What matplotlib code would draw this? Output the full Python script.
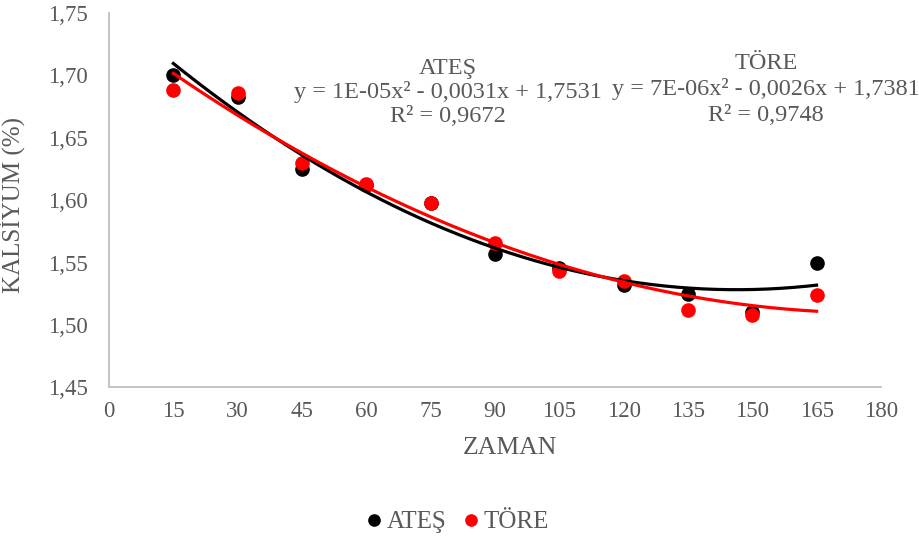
import numpy as np
import matplotlib
matplotlib.use("Agg")
import matplotlib.pyplot as plt

plt.rcParams['font.family'] = ['Liberation Serif', 'DejaVu Serif']

# veriler
zaman = [15, 30, 45, 60, 75, 90, 105, 120, 135, 150, 165]
ates = [1.700, 1.683, 1.625, 1.612, 1.598, 1.557, 1.546, 1.532, 1.525, 1.510, 1.550]
tore = [1.688, 1.686, 1.630, 1.613, 1.598, 1.566, 1.543, 1.535, 1.512, 1.508, 1.524]
x_ticks = list(range(0, 181, 15))
y_ticks = [1.45, 1.50, 1.55, 1.60, 1.65, 1.70, 1.75]

ates_yazi = ['ATEŞ', 'y = 1E-05x² - 0,0031x + 1,7531', 'R² = 0,9672']
tore_yazi = ['TÖRE', 'y = 7E-06x² - 0,0026x + 1,7381', 'R² = 0,9748']

gri = '#595959'
W, H = 920, 541

fig = plt.figure(figsize=(9.2, 5.41), dpi=100)
ax = fig.add_axes([0.1185, 0.284, 0.839, 0.692])

# noktalar
ax.plot(zaman, ates, 'o', color='black', ms=9.5, label='ATEŞ', zorder=3)
ax.plot(zaman, tore, 'o', color='#ff0000', ms=9.5, label='TÖRE', zorder=3)

# 2. derece trend cizgileri
xs = np.linspace(zaman[0], zaman[-1], 200)
k_ates = np.polyfit(zaman, ates, 2)
k_tore = np.polyfit(zaman, tore, 2)
ax.plot(xs, np.polyval(k_ates, xs), color='black', lw=2.3, zorder=4)
ax.plot(xs, np.polyval(k_tore, xs), color='#ff0000', lw=2.3, zorder=5)

ax.set_xlim(0, 180)
ax.set_ylim(1.45, 1.75)
ax.set_xticks(x_ticks)
ax.set_yticks(y_ticks)
ax.set_yticklabels([f"{v:.2f}".replace('.', ',') for v in y_ticks])
ax.tick_params(length=0, labelsize=16.5, colors=gri)
ax.tick_params(axis='x', pad=10)
ax.tick_params(axis='y', pad=15)

for s in ['top', 'right']:
    ax.spines[s].set_visible(False)
for s in ['left', 'bottom']:
    ax.spines[s].set_color('#bfbfbf')
    ax.spines[s].set_linewidth(1.3)

ax.set_xlabel('ZAMAN', fontsize=18.5, color=gri)
ax.xaxis.set_label_coords(0.519, -0.132)
ax.set_ylabel('KALSİYUM (%)', fontsize=18, color=gri)
ax.yaxis.set_label_coords(-0.109, 0.488)

# denklemler (satir satir)
for satir, yp in zip(ates_yazi, [74, 98, 122]):
    fig.text(448 / W, 1 - yp / H, satir, ha='center', va='baseline',
             fontsize=17.5, color=gri)
for satir, yp in zip(tore_yazi, [69, 95, 121]):
    fig.text(766 / W, 1 - yp / H, satir, ha='center', va='baseline',
             fontsize=17.5, color=gri)

fig.legend(loc='center', bbox_to_anchor=(0.495, 1 - 522 / H), ncol=2,
           frameon=False, fontsize=18, labelcolor=gri, handletextpad=0.0,
           columnspacing=0.5, markerscale=0.85, handlelength=1.0,
           borderpad=0.1)

fig.savefig('out.png', dpi=100)
